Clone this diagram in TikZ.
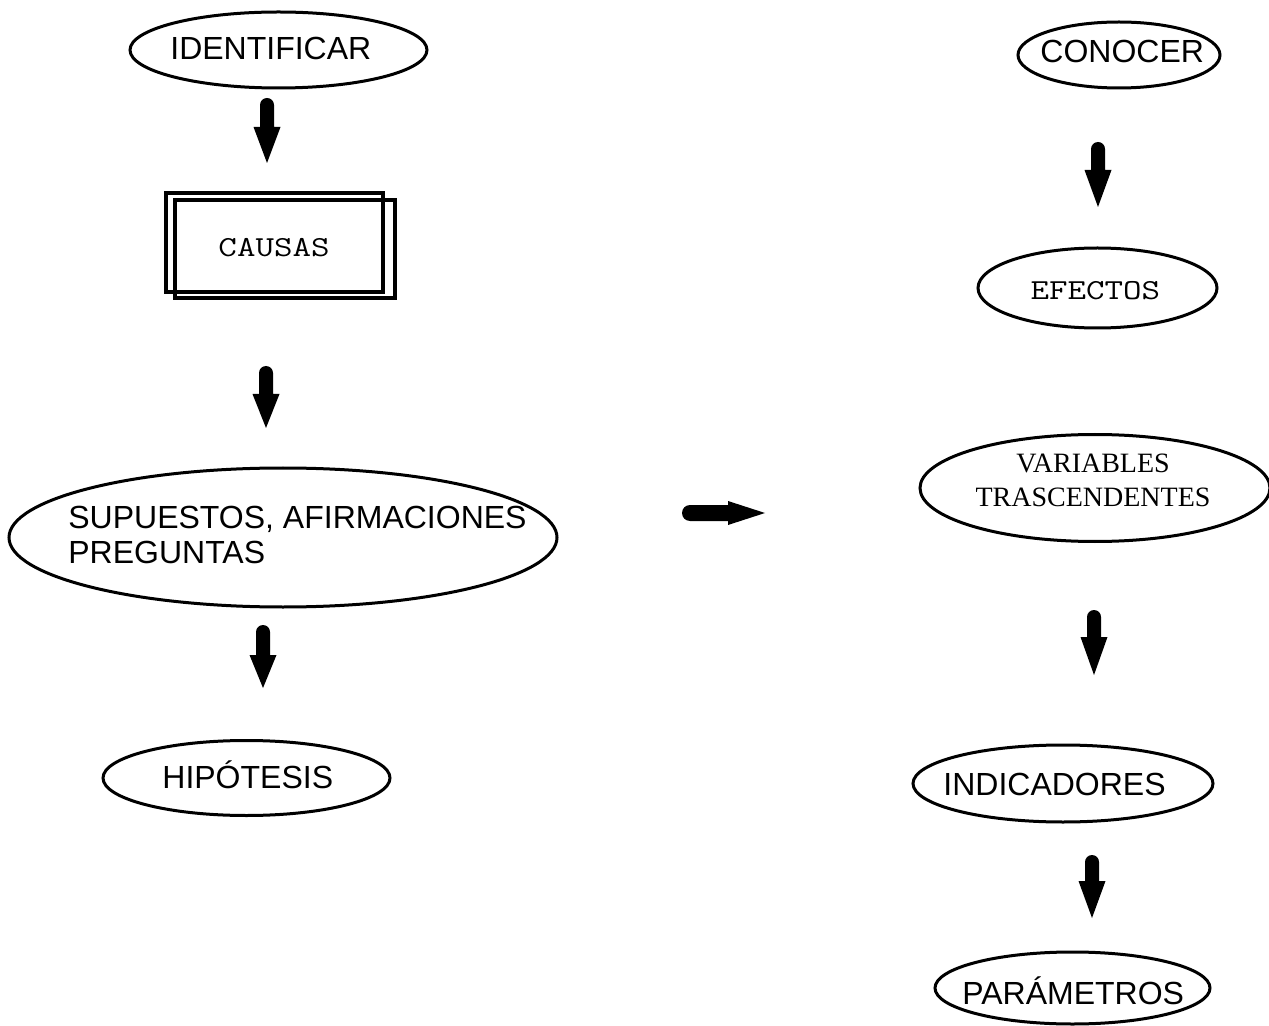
\documentclass[tikz,border=0pt]{standalone}
\usepackage{fontspec}
\setmainfont{Liberation Sans}
\newfontfamily\timesfam{Liberation Serif}
\usetikzlibrary{shapes.geometric}
\tikzset{
  oval/.style={draw, ellipse, line width=1.5pt, inner sep=0pt},
  boxy/.style={draw, rectangle, line width=2pt, inner sep=0pt},
  lbl/.style={inner sep=0pt, anchor=base west, font=\fontsize{16}{19}\selectfont},
  monolbl/.style={inner sep=0pt, anchor=base west, xscale=1.24, transform shape, font=\ttfamily\fontsize{14.5}{17}\selectfont},
  serlbl/.style={inner sep=0pt, anchor=base, font=\timesfam\fontsize{14}{17}\selectfont},
}
% block arrow pointing down: x, top, head start, tip
\newcommand\downblk[4]{%
  \fill (#1-7,#2+7) arc[start angle=180,end angle=360,radius=7]
    -- (#1+7,#3) -- (#1+13.5,#3) -- (#1,#4) -- (#1-13.5,#3) -- (#1-7,#3) -- cycle;}
\begin{document}
\begin{tikzpicture}[x=0.5pt,y=-0.5pt]
\useasboundingbox (0,0) rectangle (1269,1026);

% left column
\node[oval, minimum width=148.5pt, minimum height=38pt] (ident) at (278.5,50) {};
\node[lbl] (identt) at (170,60) {IDENTIFICAR};

\node[boxy, minimum width=108.5pt, minimum height=49.5pt] (causas) at (274.5,242.5) {};
\node[boxy, minimum width=110pt, minimum height=49pt] (causas2) at (285,249) {};
\node[monolbl] (causast) at (218,257) {CAUSAS};

\node[oval, minimum width=274pt, minimum height=69.5pt] (sup) at (283,537.5) {};
\node[lbl] (supt1) at (68,528) {SUPUESTOS, AFIRMACIONES};
\node[lbl] (supt2) at (68,563) {PREGUNTAS};

\node[oval, minimum width=143.5pt, minimum height=37.5pt] (hip) at (246.5,778) {};
\node[lbl] (hipt) at (162,788) {HIPÓTESIS};

% right column
\node[oval, minimum width=101pt, minimum height=33pt] (conocer) at (1119,55) {};
\node[lbl] (conocert) at (1040,63) {CONOCER};

\node[oval, minimum width=119.5pt, minimum height=40pt] (efectos) at (1097.5,288) {};
\node[monolbl] (efectost) at (1030,300) {EFECTOS};

\node[oval, minimum width=175pt, minimum height=53.5pt] (variables) at (1095,488) {};
\node[serlbl] (vart1) at (1093,473) {VARIABLES};
\node[serlbl] (vart2) at (1093,507) {TRASCENDENTES};

\node[oval, minimum width=150pt, minimum height=38.5pt] (indic) at (1063,783.5) {};
\node[lbl] (indict) at (943,795) {INDICADORES};

\node[oval, minimum width=137.5pt, minimum height=36pt] (param) at (1072.5,988) {};
\node[lbl] (paramt) at (962,1004) {PARÁMETROS};

% block arrows
\downblk{267}{98}{127}{163}
\downblk{266}{366}{394}{428}
\downblk{263}{625}{655}{688}
\downblk{1098}{142}{170}{207}
\downblk{1094}{610}{637}{675}
\downblk{1092}{855}{881}{918}
\fill (690,521) arc[start angle=90,end angle=270,radius=8]
  -- (728,505) -- (728,501) -- (765,513) -- (728,525) -- (728,521) -- cycle;
\end{tikzpicture}
\end{document}
